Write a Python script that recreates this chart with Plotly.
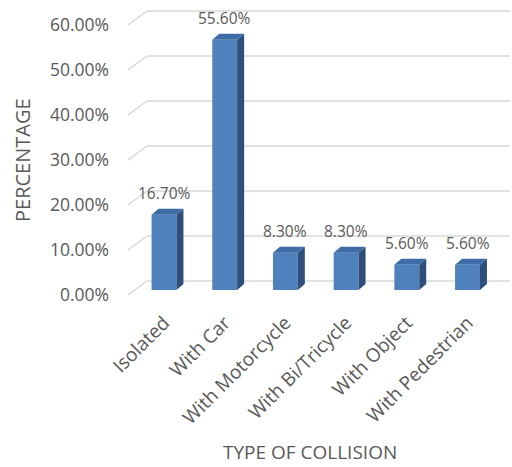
import plotly.graph_objects as go

categories = ["Isolated", "With Car", "With Motorcycle", "With Bi/Tricycle", "With Object", "With Pedestrian"]
values = [16.7, 55.6, 8.3, 8.3, 5.6, 5.6]
labels = ["16.70%", "55.60%", "8.30%", "8.30%", "5.60%", "5.60%"]
yticks = [0, 10, 20, 30, 40, 50, 60]
ytick_text = ["0.00%", "10.00%", "20.00%", "30.00%", "40.00%", "50.00%", "60.00%"]

FONT = "Open Sans"
GREY = "#595959"
FRONT = "#4F81BD"
TOP = "#3D6CA6"
SIDE = "#2E4F7B"
GRID = "#D9D9D9"

# pixel geometry helpers
W, H = 512, 467
L, R, T, B = 128, 2, 5, 167
px_x = 60.7              # pixels per category
px_y = 4.5               # pixels per percent
x0 = -(164 - L) / px_x
x1 = x0 + (W - L - R) / px_x
y_lo = -(300 - 290) / px_y
y_hi = (290 - T) / px_y

bw = 0.41
ddx = 7 / px_x
ddy = 6 / px_y

fig = go.Figure()

# front faces
xs = list(range(len(categories)))
fig.add_trace(go.Bar(x=xs, y=values, width=bw, marker=dict(color=FRONT, line=dict(width=0)),
                     hoverinfo="skip", showlegend=False))

# side and top faces
sx, sy, tx, ty = [], [], [], []
for i, v in zip(xs, values):
    r = i + bw / 2
    l = i - bw / 2
    sx += [r, r + ddx, r + ddx, r, r, None]
    sy += [0, ddy, v + ddy, v, 0, None]
    tx += [l, l + ddx, r + ddx, r, l, None]
    ty += [v, v + ddy, v + ddy, v, v, None]
fig.add_trace(go.Scatter(x=sx, y=sy, fill="toself", fillcolor=SIDE, mode="lines",
                         line=dict(width=0, color=SIDE), hoverinfo="skip", showlegend=False))
fig.add_trace(go.Scatter(x=tx, y=ty, fill="toself", fillcolor=TOP, mode="lines",
                         line=dict(width=0, color=TOP), hoverinfo="skip", showlegend=False))

# gridlines (back wall + floor diagonal)
back_dx = 19 / px_x
front_dy = -5 / px_y
back_dy = 9 / px_y
shapes = []
for t in yticks:
    shapes.append(dict(type="line", xref="x", yref="y", layer="below",
                       x0=x0, y0=t + front_dy, x1=x0 + back_dx, y1=t + back_dy,
                       line=dict(color=GRID, width=1.5)))
    shapes.append(dict(type="line", xref="x", yref="y", layer="below",
                       x0=x0 + back_dx, y0=t + back_dy, x1=x1, y1=t + back_dy,
                       line=dict(color=GRID, width=1.5)))

annotations = []
for i, v, lab in zip(xs, values, labels):
    annotations.append(dict(x=i, y=v + ddy, xref="x", yref="y", text=lab, showarrow=False,
                            yanchor="bottom", yshift=3, font=dict(family=FONT, size=15.5, color=GREY)))
annotations.append(dict(x=0, xref="paper", xanchor="center", xshift=22 - L,
                        y=(290 - 160) / px_y, yref="y", yanchor="middle",
                        text="PERCENTAGE", textangle=-90, showarrow=False,
                        font=dict(family=FONT, size=20, color=GREY)))
annotations.append(dict(x=(310 - L) / (W - L - R), xref="paper", xanchor="center",
                        y=0, yref="paper", yshift=-(452 - 300),
                        yanchor="middle", text="TYPE OF COLLISION", showarrow=False,
                        font=dict(family=FONT, size=19, color=GREY)))

# invisible trace to carry label axis
fig.add_trace(go.Scatter(x=[None], y=[None], yaxis="y2", showlegend=False, hoverinfo="skip"))

fig.update_layout(
    width=W, height=H, margin=dict(l=L, r=R, t=T, b=B),
    paper_bgcolor="white", plot_bgcolor="white",
    shapes=shapes, annotations=annotations, showlegend=False,
    xaxis=dict(range=[x0, x1], tickvals=xs, ticktext=categories, tickangle=-45,
               showgrid=False, zeroline=False, showline=False, ticks="",
               ticklabelstandoff=7,
               tickfont=dict(family=FONT, size=19, color=GREY)),
    yaxis=dict(range=[y_lo, y_hi], showgrid=False, zeroline=False, showline=False,
               showticklabels=False, ticks=""),
    yaxis2=dict(range=[y_lo + 5 / px_y, y_hi + 5 / px_y], overlaying="y", side="left",
                tickvals=yticks, ticktext=ytick_text, showgrid=False, zeroline=False,
                showline=False, ticks="", ticklabelstandoff=18,
                tickfont=dict(family=FONT, size=17.5, color=GREY)),
)

fig.write_html("out.html")
